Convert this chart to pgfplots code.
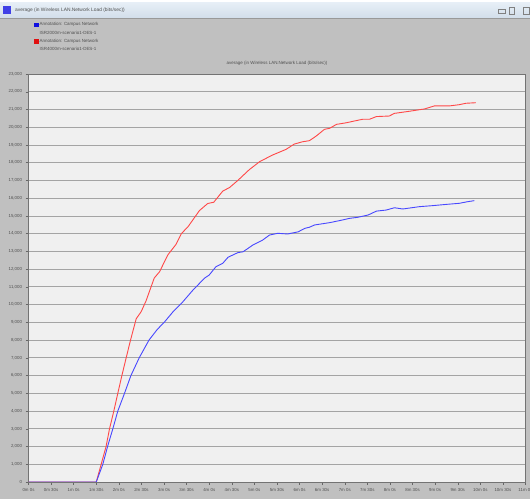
\documentclass[border=0pt]{standalone}
\usepackage{pgfplots}
\pgfplotsset{compat=1.18}
\usepackage{fontspec}
\setmainfont{Liberation Sans}
\definecolor{bgray}{HTML}{C0C0C0}
\definecolor{plotbg}{HTML}{F0F0F0}
\definecolor{gridc}{HTML}{A4A4A4}
\definecolor{redc}{HTML}{FF4848}
\definecolor{bluec}{HTML}{4848FF}
\definecolor{navyc}{HTML}{1818A0}
\definecolor{legblue}{HTML}{1010E0}
\definecolor{legred}{HTML}{E01010}
\definecolor{tbtop}{HTML}{E6EEF6}
\definecolor{tbbot}{HTML}{D2DEEA}
\definecolor{txt}{HTML}{505050}
\begin{document}
\begin{tikzpicture}[x=1bp,y=1bp]
\fill[bgray] (0,0) rectangle (530,499);
\fill[white] (0,496) rectangle (530,499);
\shade[top color=tbtop,bottom color=tbbot] (0,481) rectangle (530,496);
\draw[gray!80,line width=0.6bp] (0,480.7) -- (530,480.7);
\fill[legblue!80!white] (3,485) rectangle (11,493);
\node[anchor=west,inner sep=0,font=\fontsize{4.9}{5.5}\selectfont,text=txt] at (15,488.5) {average (in Wireless LAN.Network Load (bits/sec))};
\draw[gray,line width=0.4bp] (498,486) rectangle (505,490);
\draw[gray,line width=0.4bp] (509,485) rectangle (514,492);
\draw[gray,line width=0.4bp] (523,485) rectangle (529,492);
\begin{axis}[
  at={(28.5bp,17bp)}, anchor=south west,
  scale only axis, width=497bp, height=408bp,
  xmin=0, xmax=660, ymin=0, ymax=23000,
  axis background/.style={fill=plotbg},
  axis line style={draw=gray!90!black,line width=0.6bp},
  xtick={0,30,...,660},
  xticklabels={0m 0s,0m 30s,1m 0s,1m 30s,2m 0s,2m 30s,3m 0s,3m 30s,4m 0s,4m 30s,5m 0s,5m 30s,6m 0s,6m 30s,7m 0s,7m 30s,8m 0s,8m 30s,9m 0s,9m 30s,10m 0s,10m 30s,11m 0s},
  ytick={0,1000,...,23000},
  scaled y ticks=false,
  /pgf/number format/.cd, 1000 sep={,}, assume math mode=true, /pgfplots/.cd,
  xtick pos=bottom, ytick pos=left,
  tick align=outside, major tick length=3bp,
  tick style={draw=gray!80!black,line width=0.4bp},
  ymajorgrids,
  major grid style={draw=gridc,line width=0.8bp},
  ticklabel style={font=\fontsize{4.4}{5}\selectfont,text=txt},
  title={average (in Wireless LAN.Network Load (bits/sec))},
  title style={font=\fontsize{4.5}{5}\selectfont,text=txt,at={(0.5,1)},anchor=south,yshift=1bp,inner sep=1bp},
  legend style={at={(axis description cs:0.011,1.127)},anchor=north west,draw=none,fill=none,
    font=\fontsize{4.5}{5}\selectfont,text=txt,row sep=3.4bp,column sep=1.2bp,inner sep=0pt,
    nodes={inner sep=0.3bp,text height=3.2bp,text depth=1bp}},
  legend cell align=left,
]
\addplot[redc,line width=0.9bp,forget plot] coordinates {
(0,0) (90,0) (96.5,1000) (103,2000) (107.6,3000) (113.3,4000) (118.6,5000) (124,6000)
(129.7,7000) (135.5,8000) (143,9200) (149.6,9600) (156,10200) (167,11500) (174,11850)
(185,12800) (196,13400) (203,14000) (212,14400) (227,15300) (238,15700) (246,15770)
(258,16400) (267,16600) (278,17000) (293,17600) (307,18060) (324,18430) (342,18750)
(353,19050) (364,19180) (373,19240) (382,19500) (393,19880) (400,19940) (409,20160)
(422,20250) (435,20370) (444,20450) (453,20450) (462,20600) (479,20630) (486,20780)
(506,20900) (526,21030) (539,21200) (559,21200) (572,21270) (581,21350) (594,21380)
};
\addplot[bluec,line width=0.9bp,forget plot] coordinates {
(0,0) (90,0) (98.7,1000) (105,2000) (112,3000) (118.6,4000) (127.5,5000) (136,6000)
(147,7000) (160,8000) (171,8600) (181,9040) (192,9600) (205,10160) (218,10800)
(234,11500) (240,11670) (249,12140) (258,12330) (265,12670) (278,12930) (285,12980)
(298,13360) (311,13640) (320,13920) (331,14020) (344,13980) (358,14100) (367,14300)
(373,14360) (380,14490) (400,14620) (417,14770) (426,14860) (437,14920) (451,15050)
(462,15270) (475,15330) (486,15460) (497,15390) (519,15520) (537,15580) (555,15650)
(572,15710) (583,15800) (592,15860)
};
\addplot[navyc,line width=0.9bp,forget plot] coordinates {(0,0) (90,0)};
\addlegendimage{legend image code/.code={\fill[legblue] (0bp,-1.8bp) rectangle (3.6bp,1.8bp);}}
\addlegendentry{Annotation: Campus Network}
\addlegendimage{empty legend}
\addlegendentry{ISR2000m-scenario1-DES-1}
\addlegendimage{legend image code/.code={\fill[legred] (0bp,-1.8bp) rectangle (3.6bp,1.8bp);}}
\addlegendentry{Annotation: Campus Network}
\addlegendimage{empty legend}
\addlegendentry{ISR4000m-scenario1-DES-1}
\end{axis}
\pgfresetboundingbox
\useasboundingbox (0,0) rectangle (530,499);
\end{tikzpicture}
\end{document}
